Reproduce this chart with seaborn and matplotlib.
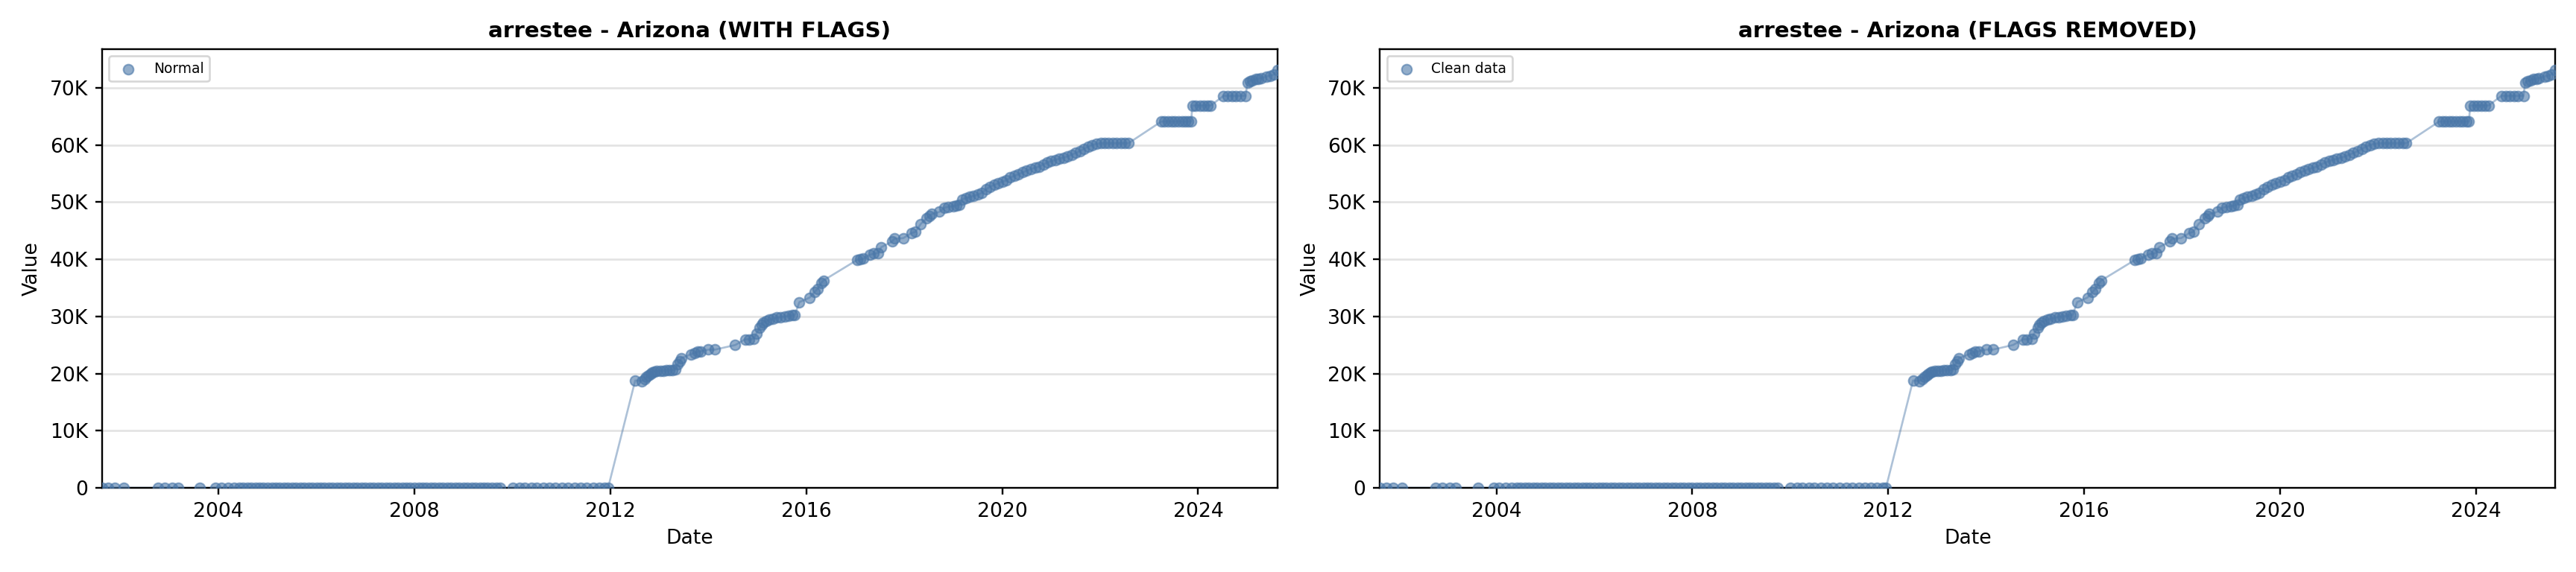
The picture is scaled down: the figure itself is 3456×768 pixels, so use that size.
import numpy as np
import pandas as pd
import seaborn as sns
import matplotlib
matplotlib.use("Agg")
import matplotlib.pyplot as plt
import matplotlib.dates as mdates
from matplotlib.ticker import FuncFormatter

# ---- data (arrestee counts, Arizona) ----
early_dates = [
    "2001-08-15", "2001-10-01", "2001-11-20", "2002-01-25",
    "2002-10-05", "2002-11-25", "2003-01-20", "2003-03-05",
    "2003-08-15",
    "2003-12-10", "2004-01-20", "2004-03-10", "2004-04-25",
    "2004-06-01", "2004-07-01", "2004-08-01", "2004-09-01", "2004-10-01", "2004-11-01", "2004-12-01",
    "2005-01-01", "2005-02-01", "2005-03-01", "2005-04-01", "2005-05-01", "2005-06-01",
    "2005-07-01", "2005-08-01", "2005-09-01", "2005-10-01", "2005-11-01", "2005-12-01",
    "2006-01-01", "2006-02-01", "2006-03-01", "2006-04-01", "2006-05-01", "2006-06-01",
    "2006-07-01", "2006-08-01", "2006-09-01", "2006-10-01", "2006-11-01", "2006-12-01",
    "2007-01-01", "2007-02-01", "2007-03-01", "2007-04-01", "2007-05-01", "2007-06-01",
    "2007-07-01", "2007-08-01", "2007-09-01", "2007-10-01", "2007-11-01", "2007-12-01",
    "2008-01-01", "2008-02-01", "2008-03-01", "2008-04-01", "2008-05-01", "2008-06-01",
    "2008-07-01", "2008-08-01", "2008-09-01", "2008-10-01", "2008-11-01", "2008-12-01",
    "2009-01-01", "2009-02-01", "2009-03-01", "2009-04-01", "2009-05-01", "2009-06-01",
    "2009-07-01", "2009-08-01", "2009-09-01", "2009-10-01",
    "2010-01-01", "2010-02-20", "2010-04-01", "2010-05-20", "2010-07-01", "2010-08-20",
    "2010-10-01", "2010-11-15",
    "2011-01-05", "2011-02-20", "2011-04-10",
    "2011-05-25", "2011-07-10", "2011-08-25", "2011-10-10", "2011-11-20", "2011-12-15",
]
early_values = [
    14, 22, 9, 31,
    18, 25, 12, 20,
    16,
    27, 11, 34, 19,
    42, 38, 45, 40, 51, 47, 44,
    39, 52, 48, 55, 50, 46,
    43, 58, 49, 53, 47, 41,
    36, 44, 50, 47, 52, 45,
    40, 38, 46, 49, 43, 37,
    33, 41, 36, 45, 39, 34,
    30, 37, 42, 35, 31, 28,
    33, 29, 36, 32, 27, 31,
    26, 34, 29, 25, 30, 23,
    28, 24, 31, 26, 22, 27,
    21, 25, 19, 23,
    18, 24, 15, 21, 17, 22,
    14, 19,
    16, 12, 20,
    15, 18, 11, 17, 13, 24,
]

growth_dates = [
    "2012-07-04", "2012-08-21", "2012-09-12", "2012-09-27", "2012-10-12", "2012-10-26",
    "2012-11-10", "2012-11-25", "2012-12-13",
    "2013-01-08", "2013-01-30", "2013-02-20", "2013-03-14", "2013-04-09", "2013-04-27",
    "2013-05-15", "2013-05-30", "2013-06-13",
    "2013-08-25", "2013-09-20", "2013-10-12", "2013-11-06",
    "2014-01-01", "2014-02-20", "2014-07-20",
    "2014-10-01", "2014-10-30", "2014-12-05", "2014-12-24",
    "2015-01-18", "2015-02-02", "2015-02-16", "2015-03-07", "2015-04-01", "2015-04-27",
    "2015-05-26", "2015-06-24", "2015-07-23", "2015-08-22", "2015-09-20", "2015-10-08",
    "2015-11-10",
    "2016-01-26", "2016-03-03", "2016-03-25", "2016-04-20", "2016-05-08",
    "2017-01-15", "2017-02-06", "2017-02-27", "2017-04-20", "2017-05-19", "2017-06-21",
    "2017-07-12", "2017-10-01", "2017-10-19", "2017-12-24",
    "2018-02-24", "2018-03-25", "2018-05-04", "2018-06-17", "2018-07-09", "2018-07-23",
    "2018-09-20", "2018-10-26", "2018-11-25",
    "2019-01-01", "2019-01-22", "2019-02-16",
    "2019-03-08", "2019-04-05", "2019-05-03", "2019-06-02", "2019-07-01", "2019-08-01",
    "2019-09-01", "2019-10-01", "2019-11-01", "2019-12-01",
    "2020-01-01", "2020-02-01", "2020-03-01", "2020-04-01", "2020-05-01", "2020-06-01",
    "2020-07-01", "2020-08-01", "2020-09-01", "2020-10-01", "2020-11-01", "2020-12-01",
    "2021-01-01", "2021-02-01", "2021-03-01", "2021-04-01", "2021-05-01", "2021-06-01",
    "2021-07-01", "2021-08-01", "2021-09-01", "2021-10-01", "2021-11-01", "2021-12-01",
    "2022-01-05", "2022-02-05", "2022-03-05", "2022-04-05", "2022-05-05", "2022-06-05",
    "2022-07-05", "2022-07-30",
    "2023-04-01", "2023-04-25", "2023-05-20", "2023-06-15", "2023-07-10", "2023-08-05",
    "2023-09-01", "2023-09-25", "2023-10-20", "2023-11-10",
    "2023-11-18", "2023-12-15", "2024-01-15", "2024-02-12", "2024-03-10", "2024-04-04",
    "2024-07-08", "2024-08-10", "2024-09-10", "2024-10-10", "2024-11-10", "2024-12-20",
    "2025-01-02", "2025-01-20", "2025-02-08", "2025-03-05", "2025-03-25", "2025-04-12",
    "2025-05-26", "2025-06-20", "2025-07-16",
    "2025-08-15",
]
growth_values = [
    18800, 18700, 19100, 19400, 19700, 19900,
    20200, 20400, 20500,
    20500, 20500, 20600, 20600, 20600, 20700,
    21600, 22100, 22700,
    23400, 23600, 23800, 23900,
    24200, 24200, 25000,
    26000, 26000, 26100, 27000,
    28000, 28600, 29000, 29200, 29400, 29600,
    29800, 29900, 30000, 30100, 30200, 30300,
    32500,
    33300, 34300, 34800, 35800, 36300,
    39900, 40000, 40100, 40800, 41000, 41100,
    42100, 43100, 43600, 43700,
    44600, 44800, 46200, 47200, 47600, 47900,
    48300, 49000, 49200,
    49300, 49400, 49500,
    50500, 50700, 50900, 51100, 51300, 51600,
    52200, 52700, 53000, 53300,
    53600, 53800, 54300, 54600, 54900, 55200,
    55500, 55800, 56000, 56200, 56600, 56900,
    57200, 57400, 57600, 57800, 58000, 58300,
    58600, 58900, 59300, 59700, 60000, 60200,
    60300, 60300, 60300, 60300, 60300, 60300,
    60300, 60300,
    64100, 64100, 64100, 64100, 64100, 64100,
    64100, 64100, 64100, 64100,
    66900, 66900, 66900, 66900, 66900, 66900,
    68600, 68600, 68600, 68600, 68600, 68600,
    70900, 71200, 71300, 71500, 71600, 71700,
    72000, 72100, 72300,
    73100,
]

state = "Arizona"
column = "arrestee"
point_color = "#4a77a8"

df = pd.DataFrame({
    "date": pd.to_datetime(early_dates + growth_dates),
    "value": early_values + growth_values,
})
# no point in this series carries a flag, so the cleaned data equals the raw data
clean_df = df.copy()

sns.set_style("ticks")
plt.rcParams["font.family"] = ["DejaVu Sans"]
plt.rcParams["text.color"] = "black"
plt.rcParams["axes.labelcolor"] = "black"
plt.rcParams["xtick.color"] = "black"
plt.rcParams["ytick.color"] = "black"

fig, axes = plt.subplots(1, 2, figsize=(18, 4), dpi=192)
fig.subplots_adjust(left=0.0396, right=0.992, bottom=0.147, top=0.914, wspace=0.087)

panels = [
    (axes[0], df, "Normal", f"{column} - {state} (WITH FLAGS)"),
    (axes[1], clean_df, "Clean data", f"{column} - {state} (FLAGS REMOVED)"),
]

for ax, data, label, title in panels:
    sns.lineplot(data=data, x="date", y="value", ax=ax, color=point_color,
                 alpha=0.45, linewidth=1.0, zorder=2, legend=False)
    sns.scatterplot(data=data, x="date", y="value", ax=ax, color=point_color,
                    s=26, alpha=0.6, edgecolor=point_color, linewidth=0.8,
                    label=label, zorder=3)

    ax.set_xlim(data["date"].min(), data["date"].max())
    ax.set_ylim(0, data["value"].max() * 1.05)
    ax.xaxis.set_major_locator(mdates.YearLocator(4))
    ax.xaxis.set_major_formatter(mdates.DateFormatter("%Y"))
    ax.yaxis.set_major_formatter(FuncFormatter(lambda v, p: "0" if v == 0 else f"{v / 1000:.0f}K"))

    ax.grid(axis="y", color="#e3e3e3", linewidth=1.0)
    ax.set_axisbelow(True)
    for side in ["top", "right", "bottom", "left"]:
        ax.spines[side].set_visible(True)
        ax.spines[side].set_color("black")
        ax.spines[side].set_linewidth(0.9)
    ax.tick_params(axis="both", labelsize=10, length=3.5, width=0.9, color="black",
                   labelcolor="black")

    ax.set_title(title, fontsize=11, fontweight="bold", color="black")
    ax.set_xlabel("Date", fontsize=10, color="black")
    ax.set_ylabel("Value", fontsize=10, color="black")
    ax.legend(loc="upper left", fontsize=7, frameon=True, framealpha=0.8)

fig.savefig("out.png", dpi=192)
plt.close(fig)
